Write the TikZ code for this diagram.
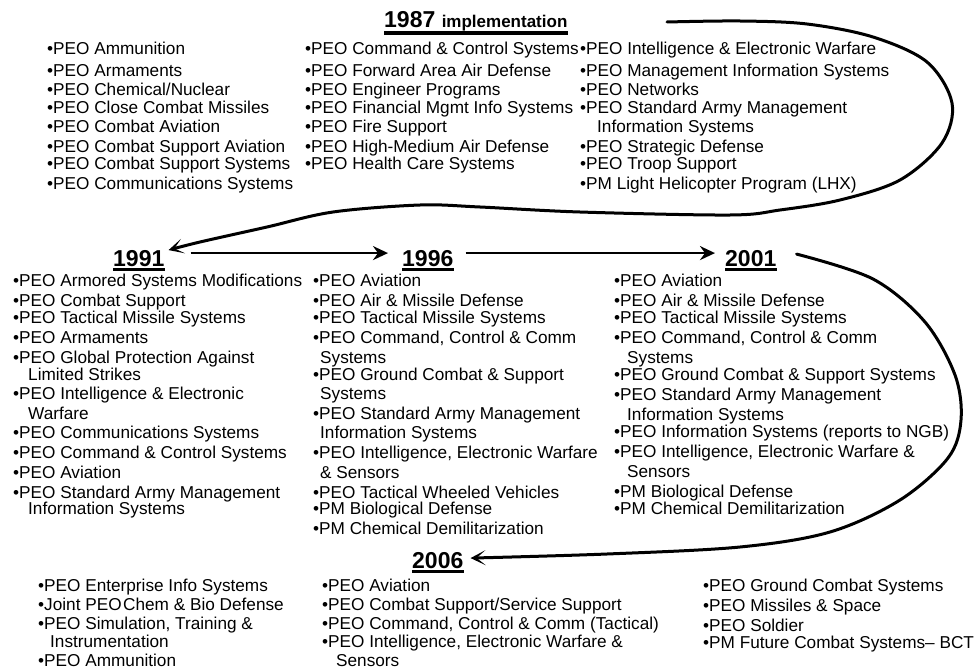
\documentclass[tikz,border=0pt]{standalone}
\usepackage{fontspec}
\setmainfont{Liberation Sans}
\usetikzlibrary{arrows.meta}
\begin{document}
\begin{tikzpicture}[x=1pt,y=-1pt,
  item/.style={anchor=base west, inner sep=0pt, font=\fontsize{17.2}{19}\selectfont},
  year/.style={anchor=base west, inner sep=0pt, font=\fontsize{23}{26}\selectfont\bfseries},
  uline/.style={line width=3.5pt},
  flow/.style={line width=2.6pt, -{Stealth[length=15pt,width=14pt,inset=5pt]}},
  loopline/.style={line width=3pt, line join=round, line cap=round, -{Stealth[length=15pt,width=15pt,inset=9pt]}}]
\useasboundingbox (0,0) rectangle (974,669);

% ---------- titles ----------
\node[year] (t87) at (384,28) {1987 {\fontsize{17}{19}\selectfont implementation}};
\draw[uline] ([yshift=-5pt]t87.base west) -- ([yshift=-5pt]t87.base east);
\node[year] (y91) at (113,266) {1991};
\node[year] (y96) at (402,266) {1996};
\node[year] (y01) at (725,266) {2001};
\node[year] (y06) at (412,568) {2006};
\foreach \n in {y91,y96,y01,y06}
  \draw[uline] ([yshift=-3.5pt]\n.base west) -- ([yshift=-3.5pt]\n.base east);

% ---------- 1987 ----------
\foreach \x/\y/\t [count=\i] in {
  47/49/{•PEO Ammunition}, 47/70/{•PEO Armaments}, 47/89/{•PEO Chemical/Nuclear},
  47/107/{•PEO Close Combat Missiles}, 47/126/{•PEO Combat Aviation},
  47/146/{•PEO Combat Support Aviation}, 47/163/{•PEO Combat Support Systems},
  47/183/{•PEO Communications Systems}}
  \node[item] (a\i) at (\x,\y+6) {\t};
\foreach \x/\y/\t [count=\i] in {
  305/49/{•PEO Command \& Control Systems}, 305/70/{•PEO Forward Area Air Defense},
  305/89/{•PEO Engineer Programs}, 305/107/{•PEO Financial Mgmt Info Systems},
  305/126/{•PEO Fire Support}, 305/146/{•PEO High-Medium Air Defense},
  305/163/{•PEO Health Care Systems}}
  \node[item] (b\i) at (\x,\y+6) {\t};
\foreach \x/\y/\t [count=\i] in {
  580/49/{•PEO Intelligence \& Electronic Warfare}, 580/70/{•PEO Management Information Systems},
  580/89/{•PEO Networks}, 580/107/{•PEO Standard Army Management},
  597/126/{Information Systems}, 580/146/{•PEO Strategic Defense},
  580/163/{•PEO Troop Support}, 580/183/{•PM Light Helicopter Program (LHX)}}
  \node[item] (c\i) at (\x,\y+6) {\t};

% ---------- 1991 ----------
\foreach \x/\y/\t [count=\i] in {
  13/280/{•PEO Armored Systems Modifications}, 13/300/{•PEO Combat Support},
  13/317/{•PEO Tactical Missile Systems}, 13/337/{•PEO Armaments},
  13/357/{•PEO Global Protection Against}, 28/374/{Limited Strikes},
  13/393/{•PEO Intelligence \& Electronic}, 28/413/{Warfare},
  13/432/{•PEO Communications Systems}, 13/452/{•PEO Command \& Control Systems},
  13/472/{•PEO Aviation}, 13/492/{•PEO Standard Army Management},
  28/508/{Information Systems}}
  \node[item] (d\i) at (\x,\y+6) {\t};

% ---------- 1996 ----------
\foreach \x/\y/\t [count=\i] in {
  313/280/{•PEO Aviation}, 313/300/{•PEO Air \& Missile Defense},
  313/317/{•PEO Tactical Missile Systems}, 313/337/{•PEO Command, Control \& Comm},
  320/357/{Systems}, 313/374/{•PEO Ground Combat \& Support},
  320/393/{Systems}, 313/413/{•PEO Standard Army Management},
  320/432/{Information Systems}, 313/452/{•PEO Intelligence, Electronic Warfare},
  320/472/{\& Sensors}, 313/492/{•PEO Tactical Wheeled Vehicles},
  313/508/{•PM Biological Defense}, 313/528/{•PM Chemical Demilitarization}}
  \node[item] (e\i) at (\x,\y+6) {\t};

% ---------- 2001 ----------
\foreach \x/\y/\t [count=\i] in {
  614/280/{•PEO Aviation}, 614/300/{•PEO Air \& Missile Defense},
  614/317/{•PEO Tactical Missile Systems}, 614/337/{•PEO Command, Control \& Comm},
  627/357/{Systems}, 614/374/{•PEO Ground Combat \& Support Systems},
  614/394/{•PEO Standard Army Management}, 627/414/{Information Systems},
  614/431/{•PEO Information Systems (reports to NGB)},
  614/451/{•PEO Intelligence, Electronic Warfare \&}, 627/471/{Sensors},
  614/491/{•PM Biological Defense}, 614/508/{•PM Chemical Demilitarization}}
  \node[item] (f\i) at (\x,\y+6) {\t};

% ---------- 2006 ----------
\foreach \x/\y/\t [count=\i] in {
  38/585/{•PEO Enterprise Info Systems}, 38/604/{•Joint PEO\kern1.5pt Chem \& Bio Defense},
  38/623/{•PEO Simulation, Training \&}, 50/641/{Instrumentation},
  38/660/{•PEO Ammunition}}
  \node[item] (g\i) at (\x,\y+6) {\t};
\foreach \x/\y/\t [count=\i] in {
  322/585/{•PEO Aviation}, 322/604/{•PEO Combat Support/Service Support},
  322/623/{•PEO Command, Control \& Comm (Tactical)},
  322/641/{•PEO Intelligence, Electronic Warfare \&}, 336/660/{Sensors}}
  \node[item] (h\i) at (\x,\y+6) {\t};
\foreach \x/\y/\t [count=\i] in {
  703/585/{•PEO Ground Combat Systems}, 703/605/{•PEO Missiles \& Space},
  703/625/{•PEO Soldier}, 703/642/{•PM Future Combat Systems– BCT}}
  \node[item] (k\i) at (\x,\y+6) {\t};

% ---------- connectors ----------
\coordinate (s87) at (667,22);
\coordinate (e91) at ([xshift=4pt,yshift=8pt]y91.east);
\draw[loopline] plot[smooth, tension=0.55] coordinates {
  (s87) (740,21) (807,24) (873,37) (927,62) (952,103) (942,143) (900,180)
  (840,200) (780,210) (730,215) (580,212) (480,207) (420,205) (333,212)
  (267,227) (200,242) (e91)};

\draw[flow] ([xshift=26pt,yshift=5pt]y91.east) -- ([xshift=-14pt,yshift=5pt]y96.west);
\draw[flow] ([xshift=12pt,yshift=5pt]y96.east) -- ([xshift=-10pt,yshift=5pt]y01.west);

\coordinate (s01) at ([xshift=20pt,yshift=4pt]y01.east);
\coordinate (e06) at ([xshift=7pt,yshift=2pt]y06.east);
\draw[loopline] plot[smooth, tension=0.55] coordinates {
  (s01) (873,279) (925,322) (955,375) (961,420) (948,458) (900,500)
  (830,532) (740,547) (607,554) (e06)};
\end{tikzpicture}
\end{document}
